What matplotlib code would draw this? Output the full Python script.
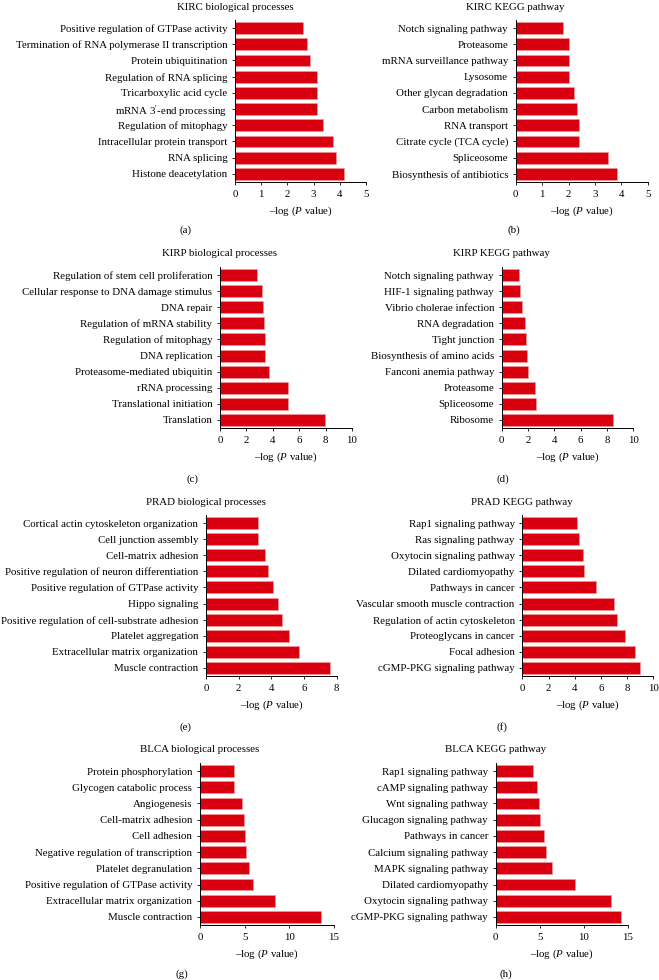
import matplotlib
matplotlib.use("Agg")
import matplotlib.pyplot as plt

plt.rcParams['font.family'] = ['Liberation Serif', 'DejaVu Serif']
plt.rcParams['mathtext.fontset'] = 'custom'
plt.rcParams['mathtext.rm'] = 'Liberation Serif'
plt.rcParams['mathtext.it'] = 'Liberation Serif:italic'

# ---- data (top to bottom as shown) ----
kirc_bp_terms = ["Positive regulation of GTPase activity",
                 "Termination of RNA polymerase II transcription",
                 "Protein ubiquitination", "Regulation of RNA splicing",
                 "Tricarboxylic acid cycle", "mRNA 3$'$-end processing",
                 "Regulation of mitophagy", "Intracellular protein transport",
                 "RNA splicing", "Histone deacetylation"]
kirc_bp_vals = [2.58, 2.74, 2.86, 3.12, 3.12, 3.14, 3.37, 3.75, 3.85, 4.16]

kirc_kegg_terms = ["Notch signaling pathway", "Proteasome", "mRNA surveillance pathway",
                   "Lysosome", "Other glycan degradation", "Carbon metabolism",
                   "RNA transport", "Citrate cycle (TCA cycle)", "Spliceosome",
                   "Biosynthesis of antibiotics"]
kirc_kegg_vals = [1.78, 2.02, 2.02, 2.03, 2.21, 2.31, 2.39, 2.41, 3.48, 3.83]

kirp_bp_terms = ["Regulation of stem cell proliferation",
                 "Cellular response to DNA damage stimulus", "DNA repair",
                 "Regulation of mRNA stability", "Regulation of mitophagy",
                 "DNA replication", "Proteasome-mediated ubiquitin",
                 "rRNA processing", "Translational initiation", "Translation"]
kirp_bp_vals = [2.83, 3.2, 3.28, 3.36, 3.38, 3.41, 3.74, 5.18, 5.18, 7.95]

kirp_kegg_terms = ["Notch signaling pathway", "HIF-1 signaling pathway",
                   "Vibrio cholerae infection", "RNA degradation", "Tight junction",
                   "Biosynthesis of amino acids", "Fanconi anemia pathway",
                   "Proteasome", "Spliceosome", "Ribosome"]
kirp_kegg_vals = [1.34, 1.42, 1.52, 1.75, 1.82, 1.9, 2.0, 2.5, 2.6, 8.48]

prad_bp_terms = ["Cortical actin cytoskeleton organization", "Cell junction assembly",
                 "Cell-matrix adhesion", "Positive regulation of neuron differentiation",
                 "Positive regulation of GTPase activity", "Hippo signaling",
                 "Positive regulation of cell-substrate adhesion",
                 "Platelet aggregation", "Extracellular matrix organization",
                 "Muscle contraction"]
prad_bp_vals = [3.15, 3.18, 3.6, 3.78, 4.12, 4.42, 4.62, 5.05, 5.68, 7.58]

prad_kegg_terms = ["Rap1 signaling pathway", "Ras signaling pathway",
                   "Oxytocin signaling pathway", "Dilated cardiomyopathy",
                   "Pathways in cancer", "Vascular smooth muscle contraction",
                   "Regulation of actin cytoskeleton", "Proteoglycans in cancer",
                   "Focal adhesion", "cGMP-PKG signaling pathway"]
prad_kegg_vals = [4.15, 4.3, 4.6, 4.7, 5.63, 7.0, 7.25, 7.86, 8.6, 8.98]

blca_bp_terms = ["Protein phosphorylation", "Glycogen catabolic process",
                 "Angiogenesis", "Cell-matrix adhesion", "Cell adhesion",
                 "Negative regulation of transcription", "Platelet degranulation",
                 "Positive regulation of GTPase activity",
                 "Extracellular matrix organization", "Muscle contraction"]
blca_bp_vals = [3.76, 3.76, 4.66, 4.89, 5.0, 5.19, 5.45, 5.9, 8.38, 13.6]

blca_kegg_terms = ["Rap1 signaling pathway", "cAMP signaling pathway",
                   "Wnt signaling pathway", "Glucagon signaling pathway",
                   "Pathways in cancer", "Calcium signaling pathway",
                   "MAPK signaling pathway", "Dilated cardiomyopathy",
                   "Oxytocin signaling pathway", "cGMP-PKG signaling pathway"]
blca_kegg_vals = [4.2, 4.73, 4.92, 5.03, 5.45, 5.72, 6.4, 9.01, 13.07, 14.24]

titles = ["KIRC biological processes", "KIRC KEGG pathway",
          "KIRP biological processes", "KIRP KEGG pathway",
          "PRAD biological processes", "PRAD KEGG pathway",
          "BLCA biological processes", "BLCA KEGG pathway"]
panel_letters = ["(a)", "(b)", "(c)", "(d)", "(e)", "(f)", "(g)", "(h)"]
terms = [kirc_bp_terms, kirc_kegg_terms, kirp_bp_terms, kirp_kegg_terms,
         prad_bp_terms, prad_kegg_terms, blca_bp_terms, blca_kegg_terms]
values = [kirc_bp_vals, kirc_kegg_vals, kirp_bp_vals, kirp_kegg_vals,
          prad_bp_vals, prad_kegg_vals, blca_bp_vals, blca_kegg_vals]
xmax = [5, 5, 10, 10, 8, 10, 15, 15]
xstep = [1, 1, 2, 2, 2, 2, 5, 5]

# ---- layout in pixels: x0, x1, top, bottom, letter x, letter y ----
W, H = 659, 980
layout = [
    (235, 366, 20, 182, 186, 230),
    (515.7, 647.7, 20, 182, 514, 230),
    (220, 352, 267, 428, 192, 479),
    (501.7, 633.3, 267, 428, 503, 479),
    (206, 336.8, 515, 676, 185, 727),
    (522.3, 653.3, 515, 676, 502, 727),
    (200, 334, 763, 925, 182, 974),
    (495.7, 627.7, 763, 925, 506, 974),
]

FS = 7.8
RED = '#d9000f'

fig = plt.figure(figsize=(W / 100, H / 100), dpi=100)

for i in range(8):
    x0, x1, top, bot, lx, ly = layout[i]
    ax = fig.add_axes([x0 / W, 1 - bot / H, (x1 - x0) / W, (bot - top) / H])
    labels = terms[i][::-1]
    vals = values[i][::-1]
    ax.barh(range(len(vals)), vals, height=0.74, color=RED,
            edgecolor='#f29a9a', linewidth=0.4)
    ax.set_xlim(0, xmax[i])
    ax.set_ylim(-0.5, len(vals) - 0.5)
    ax.set_yticks(range(len(vals)))
    ax.set_yticklabels(labels, fontsize=FS)
    ax.set_xticks(range(0, xmax[i] + 1, xstep[i]))
    ax.tick_params(axis='x', labelsize=FS, length=2.5, width=0.6, pad=3,
                   direction='out')
    ax.tick_params(axis='y', length=2.5, width=0.6, pad=3, direction='out')
    for s in ('top', 'right'):
        ax.spines[s].set_visible(False)
    for s in ('left', 'bottom'):
        ax.spines[s].set_linewidth(0.7)
    ax.text(0.5, -29 / (bot - top), '–log ($\\mathit{P}$ value)',
            transform=ax.transAxes, ha='center', va='center', fontsize=FS)
    fig.text(x0 / W, 1 - (top - 13) / H, titles[i], ha='center', va='center',
             fontsize=FS)
    fig.text(lx / W, 1 - ly / H, panel_letters[i], ha='center', va='center',
             fontsize=FS)

fig.savefig('out.png', dpi=100)
